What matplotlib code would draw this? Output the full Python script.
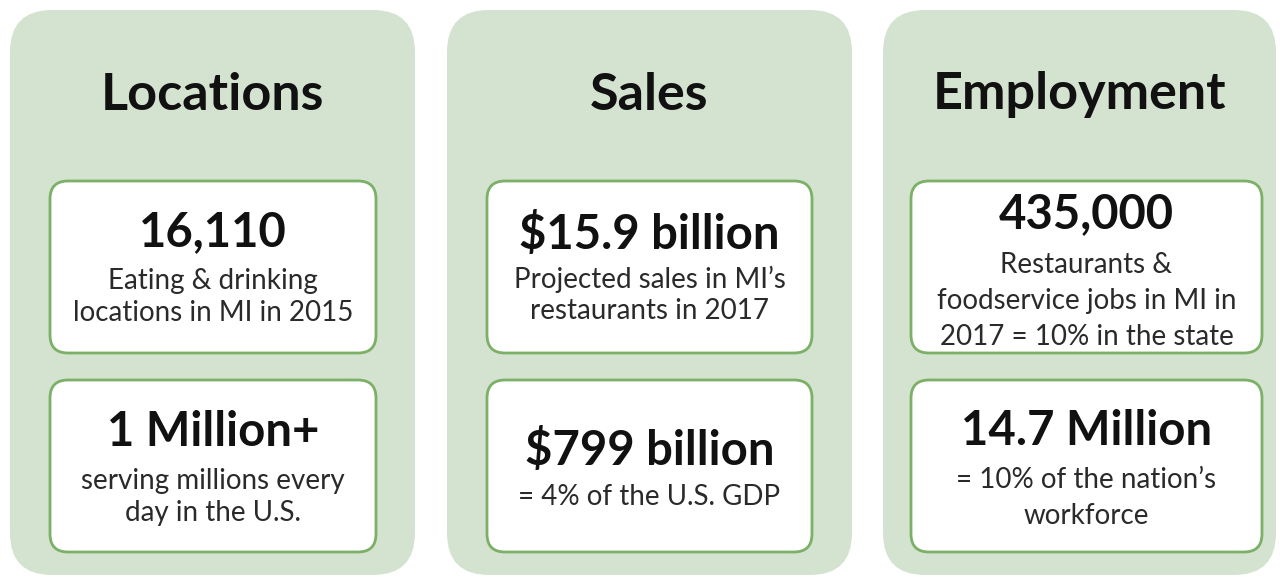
import matplotlib
matplotlib.use('Agg')
import matplotlib.pyplot as plt
from matplotlib.patches import FancyBboxPatch

plt.rcParams['font.family'] = ['Lato', 'DejaVu Sans']

# content
TITLES = ['Locations', 'Sales', 'Employment']
FIGURES = [['16,110', '1 Million+'],
           ['$15.9 billion', '$799 billion'],
           ['435,000', '14.7 Million']]
NOTES = [[['Eating & drinking', 'locations in MI in 2015'],
          ['serving millions every', 'day in the U.S.']],
         [['Projected sales in MI\u2019s', 'restaurants in 2017'],
          ['= 4% of the U.S. GDP']],
         [['Restaurants &', 'foodservice jobs in MI in', '2017 = 10% in the state'],
          ['= 10% of the nation\u2019s', 'workforce']]]

# layout (pixels)
PANEL_X = [(10, 415), (447, 852), (883, 1276)]
BOX_X = [(50, 376), (487, 812), (911, 1262)]
BOX_Y = [(181, 353), (380, 552)]
NUM_Y = [[232, 432], [234, 451], [214, 431]]
NOTE_Y0 = [[281, 481], [279, 497], [265, 480]]
NOTE_DY = [32, 32, 36]

C_PANEL = '#d4e3d0'
C_EDGE = '#7bb066'

fig = plt.figure(figsize=(12.8, 5.77), dpi=100)
ax = fig.add_axes([0, 0, 1, 1])
ax.set_xlim(0, 1280); ax.set_ylim(577, 0); ax.axis('off')

for i, title in enumerate(TITLES):
    x0, x1 = PANEL_X[i]
    ax.add_patch(FancyBboxPatch((x0, 10), x1 - x0, 565,
                                boxstyle='round,pad=0,rounding_size=42',
                                fc=C_PANEL, ec='none', zorder=1))
    ax.text((x0 + x1) / 2, 95, title, ha='center', va='center',
            fontsize=37.5, fontweight='bold', color='#111111', zorder=3)
    bx0, bx1 = BOX_X[i]
    cx = (bx0 + bx1) / 2
    for j in range(2):
        y0, y1 = BOX_Y[j]
        ax.add_patch(FancyBboxPatch((bx0, y0), bx1 - bx0, y1 - y0,
                                    boxstyle='round,pad=0,rounding_size=18',
                                    fc='white', ec=C_EDGE, lw=2, zorder=2))
        ax.text(cx, NUM_Y[i][j], FIGURES[i][j], ha='center', va='center',
                fontsize=34, fontweight='bold', color='#111111', zorder=3)
        for k, line in enumerate(NOTES[i][j]):
            ax.text(cx, NOTE_Y0[i][j] + k * NOTE_DY[i], line, ha='center', va='center',
                    fontsize=20, color='#2a2a2a', zorder=3)

fig.savefig('out.png', dpi=100, facecolor='white')
